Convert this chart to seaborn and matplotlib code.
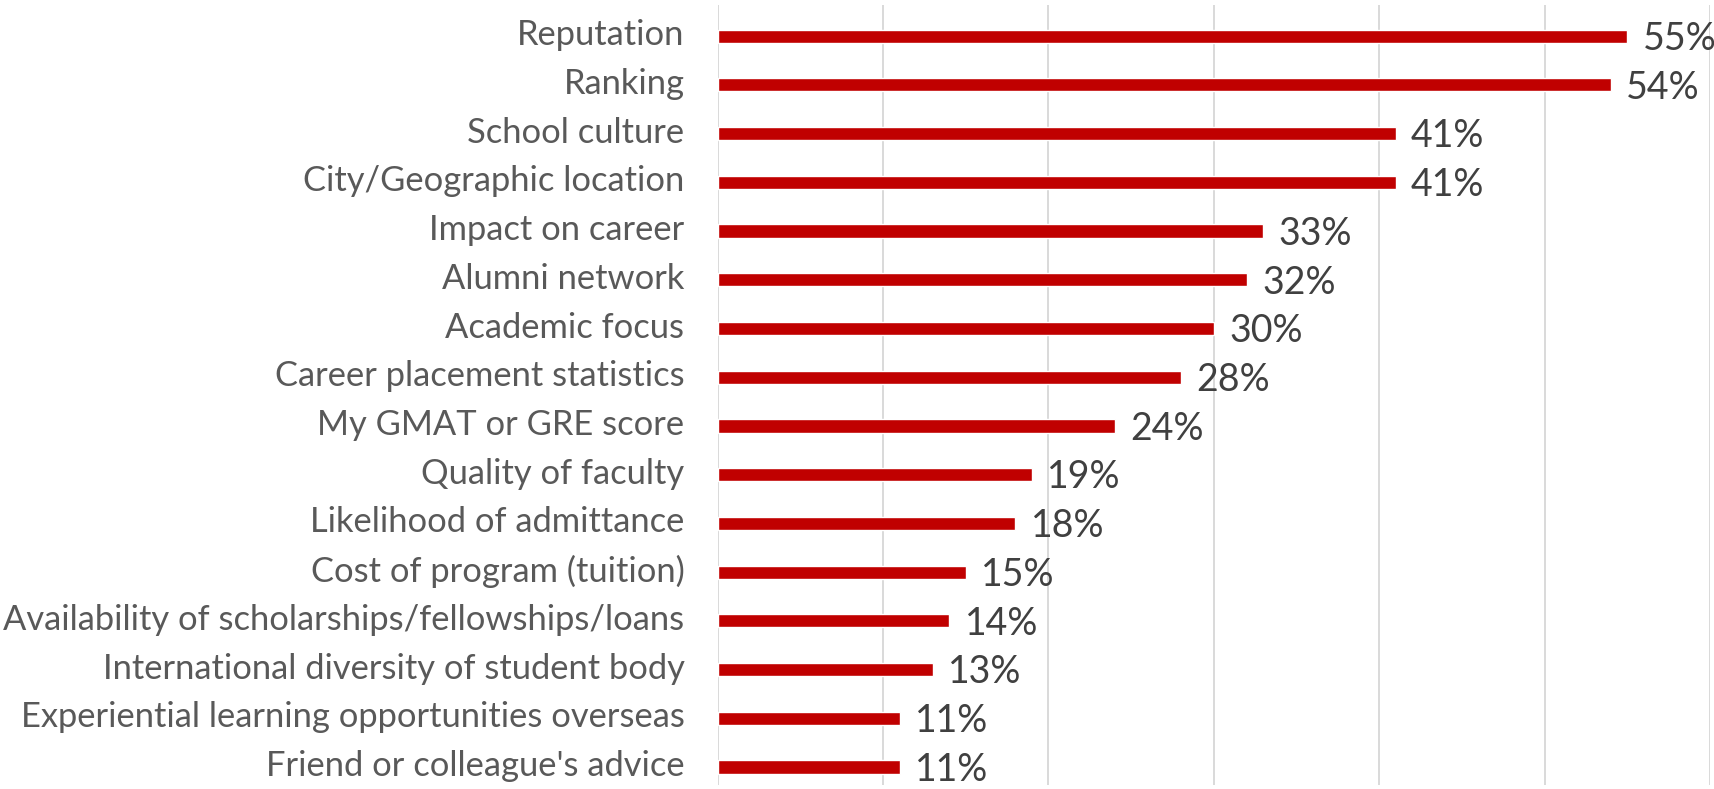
import numpy as np
import pandas as pd
import matplotlib
matplotlib.use("Agg")
import matplotlib.pyplot as plt
import matplotlib.transforms as mtransforms
import seaborn as sns

# ---------------------------
# Data
# ---------------------------
CATEGORIES = [
    "Reputation",
    "Ranking",
    "School culture",
    "City/Geographic location",
    "Impact on career",
    "Alumni network",
    "Academic focus",
    "Career placement statistics",
    "My GMAT or GRE score",
    "Quality of faculty",
    "Likelihood of admittance",
    "Cost of program (tuition)",
    "Availability of scholarships/fellowships/loans",
    "International diversity of student body",
    "Experiential learning opportunities overseas",
    "Friend or colleague's advice",
]
SHARES = [55, 54, 41, 41, 33, 32, 30, 28, 24, 19, 18, 15, 14, 13, 11, 11]

BAR_COLOR = "#C00000"
LABEL_COLOR = "#595959"
VALUE_COLOR = "#404040"
GRID_COLOR = "#D9D9D9"

sns.set_style("white")
plt.rcParams["font.family"] = ["Lato", "DejaVu Sans"]

df = pd.DataFrame({"factor": CATEGORIES, "share": np.array(SHARES) / 100})

fig = plt.figure(figsize=(17.15, 7.89), dpi=100)
ax = fig.add_axes([0.4185, 0.005, 0.5785, 0.9887])

sns.barplot(data=df, x="share", y="factor", orient="h", color=BAR_COLOR,
            width=0.27, saturation=1, ax=ax)

ax.set_xlim(0, 0.6)
ax.set_ylim(15.37, -0.64)
ax.set_xticks(np.arange(0, 0.61, 0.1))
ax.set_xticklabels([])
ax.grid(axis="x", color=GRID_COLOR, linewidth=1.4)
ax.set_axisbelow(True)
for s in ax.spines.values():
    s.set_visible(False)
ax.set_xlabel("")
ax.set_ylabel("")
ax.tick_params(axis="y", length=0, pad=24, labelsize=24.8, labelcolor=LABEL_COLOR)
ax.tick_params(axis="x", length=0)

# nudge category labels up a little, like the original
shift = mtransforms.ScaledTranslation(0, 4 / 100, fig.dpi_scale_trans)
for lbl in ax.get_yticklabels():
    lbl.set_transform(lbl.get_transform() + shift)

# value labels
for i, v in enumerate(SHARES):
    ax.annotate(f"{v}%", xy=(v / 100, i), xytext=(11, -2), textcoords="offset points",
                ha="left", va="center", fontsize=27, color=VALUE_COLOR,
                annotation_clip=False)

fig.savefig("out.png", dpi=100)
